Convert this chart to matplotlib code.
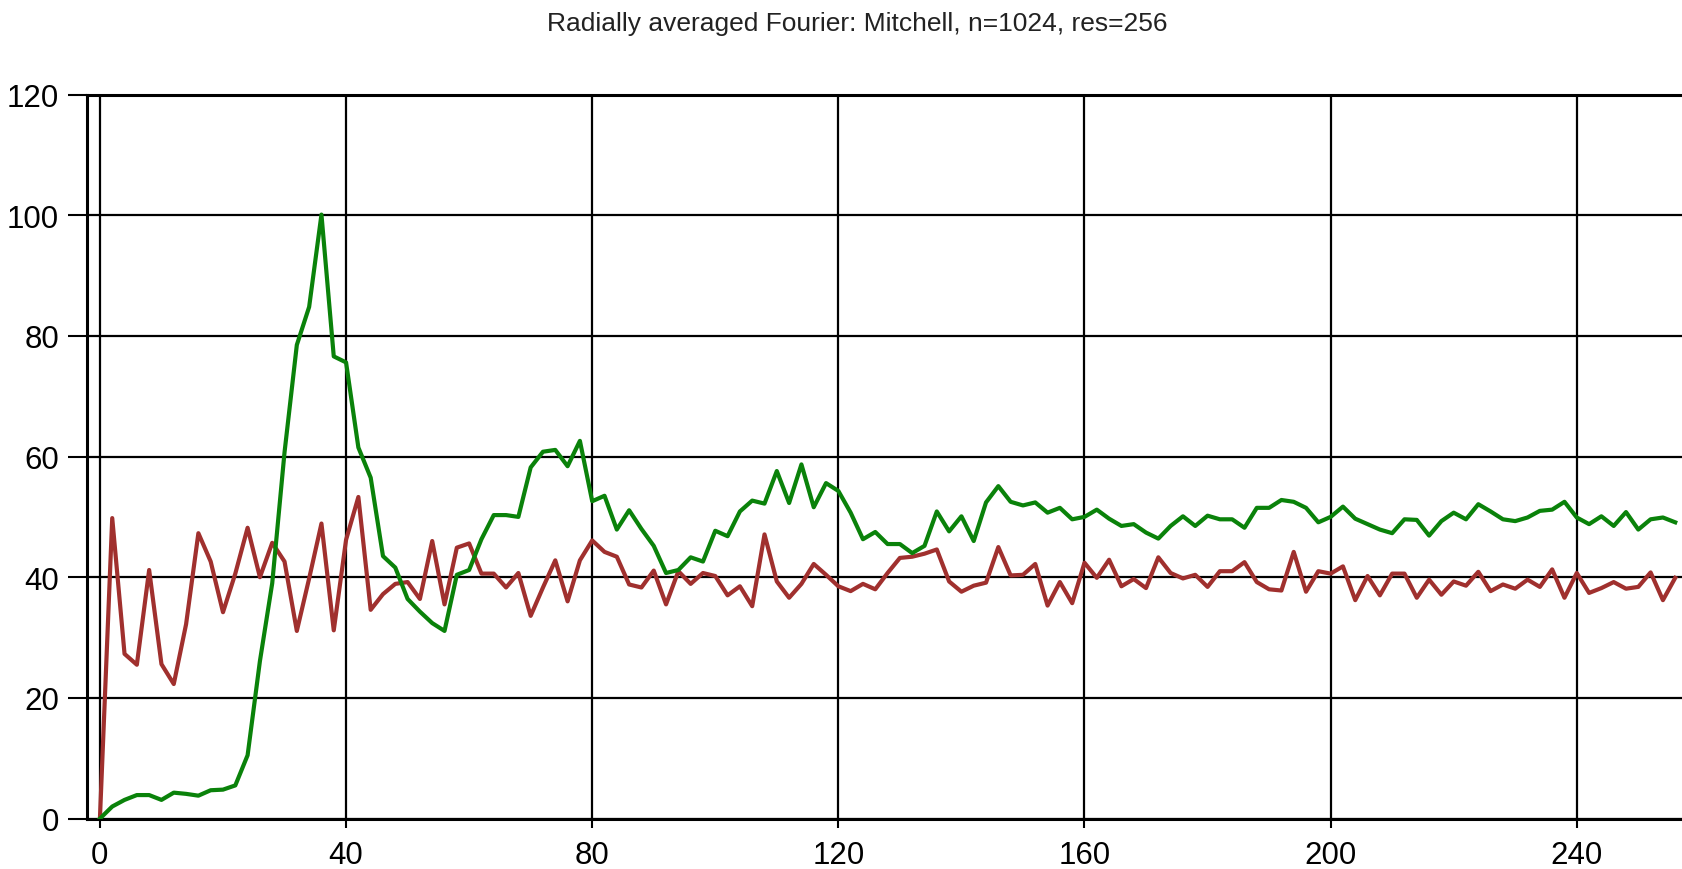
import matplotlib
matplotlib.use("Agg")
import matplotlib.pyplot as plt
import numpy as np

# ---- data ----
freq = list(range(0, 258, 2))

green_vals = [
    0.0, 2.0, 3.1, 3.9, 3.9, 3.1, 4.3, 4.1, 3.8, 4.7,
    4.8, 5.5, 10.5, 26.1, 39.0, 60.7, 78.5, 84.8, 100.1, 76.6,
    75.6, 61.5, 56.5, 43.5, 41.6, 36.4, 34.3, 32.4, 31.1, 40.4,
    41.2, 46.3, 50.3, 50.3, 50.0, 58.2, 60.8, 61.1, 58.4, 62.6,
    52.6, 53.5, 47.9, 51.1, 48.0, 45.2, 40.7, 41.2, 43.3, 42.6,
    47.7, 46.8, 50.9, 52.7, 52.2, 57.6, 52.3, 58.7, 51.6, 55.6,
    54.3, 50.7, 46.3, 47.5, 45.5, 45.5, 44.0, 45.2, 50.9, 47.6,
    50.1, 46.0, 52.4, 55.1, 52.5, 51.9, 52.4, 50.7, 51.5, 49.6,
    50.0, 51.2, 49.7, 48.5, 48.8, 47.4, 46.4, 48.5, 50.1, 48.5,
    50.2, 49.6, 49.6, 48.2, 51.5, 51.5, 52.8, 52.5, 51.5, 49.1,
    50.0, 51.7, 49.7, 48.8, 47.9, 47.3, 49.6, 49.5, 46.9, 49.3,
    50.7, 49.6, 52.1, 50.9, 49.6, 49.3, 49.9, 51.0, 51.2, 52.5,
    49.9, 48.8, 50.1, 48.5, 50.8, 47.9, 49.6, 49.9, 49.1,
]

red_vals = [
    0.0, 49.8, 27.3, 25.5, 41.2, 25.6, 22.3, 32.2, 47.3, 42.6,
    34.2, 40.6, 48.2, 40.0, 45.7, 42.6, 31.1, 39.8, 48.9, 31.2,
    46.2, 53.3, 34.6, 37.2, 38.9, 39.2, 36.4, 46.0, 35.5, 44.9,
    45.6, 40.6, 40.6, 38.3, 40.7, 33.6, 38.3, 42.8, 36.0, 42.8,
    46.1, 44.2, 43.4, 38.8, 38.3, 41.1, 35.5, 41.0, 38.9, 40.7,
    40.2, 37.0, 38.5, 35.2, 47.1, 39.3, 36.6, 38.9, 42.2, 40.4,
    38.5, 37.7, 38.9, 38.0, 40.7, 43.2, 43.4, 43.9, 44.6, 39.3,
    37.6, 38.6, 39.1, 45.0, 40.3, 40.4, 42.2, 35.3, 39.2, 35.7,
    42.4, 39.9, 42.9, 38.5, 39.7, 38.2, 43.3, 40.7, 39.8, 40.4,
    38.4, 41.0, 41.0, 42.5, 39.2, 38.0, 37.8, 44.2, 37.6, 41.0,
    40.6, 41.8, 36.2, 40.2, 37.0, 40.6, 40.6, 36.6, 39.6, 37.1,
    39.3, 38.6, 40.9, 37.7, 38.8, 38.1, 39.6, 38.4, 41.3, 36.6,
    40.7, 37.4, 38.2, 39.2, 38.1, 38.4, 40.8, 36.2, 39.9,
]

x_ticks = [0, 40, 80, 120, 160, 200, 240]
y_ticks = [0, 20, 40, 60, 80, 100, 120]
title = "Radially averaged Fourier: Mitchell, n=1024, res=256"

# ---- figure ----
plt.rcParams["font.family"] = ["Liberation Sans", "DejaVu Sans"]

W, H = 1682, 870
fig = plt.figure(figsize=(W / 100, H / 100), dpi=100)
left = 87 / W
bottom = 1 - 819.6 / H
top = 1 - 95.5 / H
ax = fig.add_axes([left, bottom, 1 - left, top - bottom])

ax.plot(freq, red_vals, color="#A0302E", lw=3.0, solid_joinstyle="round", zorder=3)
ax.plot(freq, green_vals, color="#0A820A", lw=3.0, solid_joinstyle="round", zorder=4)

ax.set_xlim(-2.1, 257.1)
ax.set_ylim(0, 120)
ax.set_xticks(x_ticks)
ax.set_yticks(y_ticks)
ax.grid(True, color="black", lw=1.6)
ax.set_axisbelow(True)

for s in ["left", "bottom", "top"]:
    ax.spines[s].set_color("black")
    ax.spines[s].set_linewidth(2.2)
ax.spines["right"].set_visible(False)

ax.tick_params(axis="y", direction="out", length=14, width=1.5, pad=6,
               labelsize=22.5, colors="black")
ax.tick_params(axis="x", direction="out", length=6.5, width=1.5, pad=9,
               labelsize=22.5, colors="black")

fig.text(857 / W, 1 - 24 / H, title, ha="center", va="center", fontsize=19, color="#222222")

fig.savefig("out.png", dpi=100)
